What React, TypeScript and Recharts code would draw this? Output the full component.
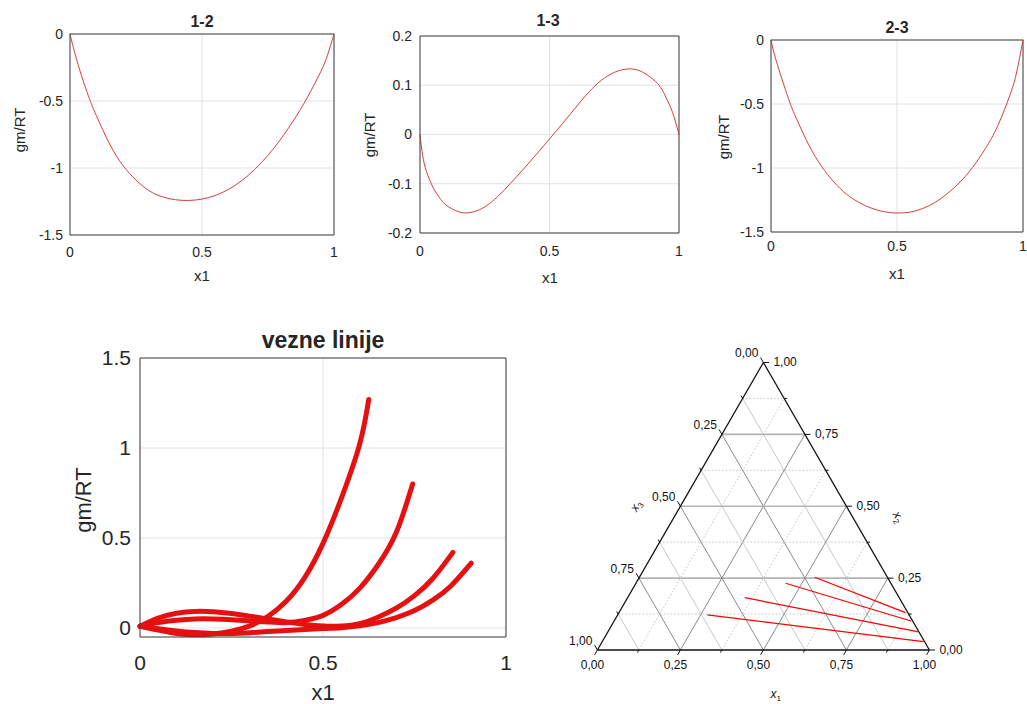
import React from 'react';
import { LineChart, Line, XAxis, YAxis, CartesianGrid, ReferenceLine, ScatterChart, Scatter } from 'recharts';

const FONT = '"Liberation Sans", Arial, Helvetica, sans-serif';
const AXIS = '#404040';
const TEXT = '#262626';
const GRID = '#e2e2e2';

// ---- 1-2 ----
const x12 = [0, 0.01, 0.025, 0.05, 0.075, 0.1, 0.15, 0.2, 0.25, 0.3, 0.35, 0.4, 0.45, 0.5, 0.55, 0.6, 0.65, 0.7, 0.75, 0.8, 0.85, 0.9, 0.95, 0.975, 1];
const y12 = [0, -0.08, -0.19, -0.35, -0.49, -0.61, -0.82, -0.98, -1.09, -1.17, -1.215, -1.237, -1.242, -1.232, -1.205, -1.16, -1.095, -1.01, -0.905, -0.78, -0.635, -0.47, -0.28, -0.16, 0];

// ---- 1-3 ----
const x13 = [0, 0.01, 0.025, 0.05, 0.075, 0.1, 0.15, 0.2, 0.25, 0.3, 0.35, 0.4, 0.45, 0.5, 0.55, 0.6, 0.65, 0.7, 0.75, 0.8, 0.85, 0.9, 0.93, 0.95, 0.975, 1];
const y13 = [0, -0.042, -0.075, -0.107, -0.128, -0.143, -0.157, -0.158, -0.147, -0.126, -0.099, -0.07, -0.04, -0.009, 0.022, 0.054, 0.085, 0.11, 0.126, 0.133, 0.129, 0.112, 0.095, 0.075, 0.045, 0];

// ---- 2-3 ----
const x23 = [0, 0.01, 0.025, 0.05, 0.075, 0.1, 0.15, 0.2, 0.25, 0.3, 0.35, 0.4, 0.45, 0.5, 0.55, 0.6, 0.65, 0.7, 0.75, 0.8, 0.85, 0.9, 0.95, 0.975, 1];
const y23 = [0, -0.085, -0.19, -0.345, -0.49, -0.61, -0.82, -0.985, -1.11, -1.205, -1.27, -1.315, -1.342, -1.352, -1.345, -1.318, -1.27, -1.2, -1.11, -0.995, -0.85, -0.67, -0.42, -0.25, 0];

// ---- vezne linije ----
const xA = [0, 0.05, 0.1, 0.15, 0.2, 0.25, 0.3, 0.35, 0.4, 0.45, 0.5, 0.55, 0.6, 0.625];
const yA = [0.01, -0.012, -0.03, -0.038, -0.033, -0.018, 0.012, 0.065, 0.15, 0.28, 0.47, 0.72, 1.02, 1.27];
const xB = [0, 0.05, 0.1, 0.15, 0.2, 0.25, 0.3, 0.35, 0.4, 0.45, 0.5, 0.55, 0.6, 0.65, 0.7, 0.745];
const yB = [0.01, 0.03, 0.043, 0.05, 0.05, 0.046, 0.04, 0.034, 0.03, 0.042, 0.07, 0.13, 0.22, 0.35, 0.53, 0.8];
const xC = [0, 0.05, 0.1, 0.15, 0.2, 0.25, 0.3, 0.35, 0.4, 0.45, 0.5, 0.55, 0.6, 0.65, 0.7, 0.75, 0.8, 0.855];
const yC = [0.01, 0.055, 0.082, 0.092, 0.09, 0.08, 0.066, 0.05, 0.034, 0.02, 0.011, 0.011, 0.024, 0.06, 0.11, 0.18, 0.275, 0.42];
const xD = [0, 0.05, 0.1, 0.15, 0.2, 0.25, 0.3, 0.35, 0.4, 0.45, 0.5, 0.55, 0.6, 0.65, 0.7, 0.75, 0.8, 0.85, 0.905];
const yD = [0.01, -0.004, -0.016, -0.025, -0.03, -0.03, -0.026, -0.02, -0.014, -0.008, -0.003, 0.002, 0.012, 0.03, 0.058, 0.097, 0.155, 0.235, 0.36];

// ---- ternary tie lines (x1, x2) ----
const tieStartX1 = [0.528, 0.451, 0.353, 0.27];
const tieStartX2 = [0.253, 0.232, 0.182, 0.122];
const tieEndX1 = [0.863, 0.894, 0.936, 0.968];
const tieEndX2 = [0.13, 0.101, 0.063, 0.029];
const ternLevels = [0.125, 0.25, 0.375, 0.5, 0.625, 0.75, 0.875];
const ternTicks = [0, 0.125, 0.25, 0.375, 0.5, 0.625, 0.75, 0.875, 1];
const ternLabels = [0, 0.25, 0.5, 0.75, 1];

const zip = (xs: number[], ys: number[]) => xs.map((x, i) => ({ x, y: ys[i] }));

const Txt = ({ x, y, size, bold, rotate, children }: any) => (
  <div
    style={{
      position: 'absolute', left: x, top: y,
      transform: `translate(-50%, -50%)${rotate ? ` rotate(${rotate}deg)` : ''}`,
      fontSize: size, fontWeight: bold ? 700 : 400, color: TEXT, whiteSpace: 'nowrap',
      lineHeight: 1, fontFamily: FONT,
    }}
  >
    {children}
  </div>
);

type PlotProps = {
  left: number; top: number; width: number; height: number;
  margin: { top: number; right: number; bottom: number; left: number };
  yAxisWidth: number; xAxisHeight: number;
  series: { x: number; y: number }[][];
  yDomain: [number, number]; yTicks: number[];
  fontSize: number; gapX: number; gapY: number;
  color: string; lineWidth: number;
};

function MatlabPlot(p: PlotProps) {
  const tick = { fontSize: p.fontSize, fill: TEXT, fontFamily: FONT };
  return (
    <div style={{ position: 'absolute', left: p.left, top: p.top }}>
      <LineChart width={p.width} height={p.height} margin={p.margin}>
        <CartesianGrid stroke={GRID} />
        <XAxis type="number" dataKey="x" domain={[0, 1]} ticks={[0, 0.5, 1]} interval={0}
          tickSize={0} tickMargin={p.gapX} tick={tick} stroke={AXIS} height={p.xAxisHeight} />
        <YAxis type="number" domain={p.yDomain} ticks={p.yTicks} interval={0}
          tickSize={0} tickMargin={p.gapY} tick={tick} stroke={AXIS} width={p.yAxisWidth} />
        <ReferenceLine x={1} stroke={AXIS} />
        <ReferenceLine y={p.yDomain[1]} stroke={AXIS} />
        {p.series.map((s, i) => (
          <Line key={i} data={s} dataKey="y" type="natural" stroke={p.color} strokeWidth={p.lineWidth}
            strokeLinecap="round" strokeLinejoin="round" dot={false} activeDot={false} isAnimationActive={false} />
        ))}
      </LineChart>
    </div>
  );
}

// ternary helpers
const SQ = Math.sqrt(3) / 2;
const tern = (x1: number, x2: number) => ({ x: x1 + x2 / 2, y: x2 * SQ });
const fmt = (v: number) => v.toFixed(2).replace('.', ',');
const isMajor = (v: number) => Math.abs(v * 4 - Math.round(v * 4)) < 1e-9;

type Seg = { pts: { x: number; y: number }[]; stroke: string; width: number; dash?: string };

function buildSegments(): Seg[] {
  const segs: Seg[] = [];
  ternLevels.forEach((v) => {
    const major = isMajor(v);
    // constant x2 (horizontal)
    segs.push({ pts: [tern(0, v), tern(1 - v, v)], stroke: major ? '#b4b4b4' : '#c4c4c4', width: major ? 1.6 : 1, dash: major ? undefined : '1.5 2' });
    // constant x1
    segs.push({ pts: [tern(v, 0), tern(v, 1 - v)], stroke: major ? '#8a8a8a' : '#c4c4c4', width: 1, dash: major ? undefined : '1.5 2' });
    // constant x3
    segs.push({ pts: [tern(1 - v, 0), tern(0, 1 - v)], stroke: major ? '#8a8a8a' : '#c8c8c8', width: 1 });
  });
  // edges
  segs.push({ pts: [tern(0, 0), tern(1, 0)], stroke: '#111', width: 1.3 });
  segs.push({ pts: [tern(1, 0), tern(0, 1)], stroke: '#111', width: 1.3 });
  segs.push({ pts: [tern(0, 1), tern(0, 0)], stroke: '#111', width: 1.3 });
  // ticks
  ternTicks.forEach((t) => {
    const d = isMajor(t) ? 0.017 : 0.009;
    segs.push({ pts: [tern(t, 0), tern(t, -d)], stroke: '#111', width: 1 });
    segs.push({ pts: [tern(1 - t, t), tern(1 - t + d, t)], stroke: '#111', width: 1 });
    segs.push({ pts: [tern(0, 1 - t), tern(-d, 1 - t + d)], stroke: '#111', width: 1 });
  });
  // tie lines
  tieStartX1.forEach((_, i) => {
    segs.push({ pts: [tern(tieStartX1[i], tieStartX2[i]), tern(tieEndX1[i], tieEndX2[i])], stroke: '#ff0000', width: 1.2 });
  });
  return segs;
}

type Lbl = { x: number; y: number; text: string; dx: number; dy: number; anchor: string; rot?: number; sub?: string };

function buildLabels(): Lbl[] {
  const out: Lbl[] = [];
  ternLabels.forEach((t) => {
    const b = tern(t, 0);
    out.push({ ...b, text: fmt(t), dx: -5, dy: 19, anchor: 'middle' });
    const r = tern(1 - t, t);
    out.push({ ...r, text: fmt(t), dx: 10, dy: 4, anchor: 'start' });
    const l = tern(0, 1 - t);
    out.push({ ...l, text: fmt(t), dx: -5, dy: -5, anchor: 'end' });
  });
  out.push({ ...tern(0.5, 0), text: 'x', sub: '1', dx: 7, dy: 48, anchor: 'start' });
  out.push({ ...tern(0, 0.5), text: 'x', sub: '3', dx: -44, dy: 6, anchor: 'start', rot: -60 });
  out.push({ ...tern(0.5, 0.5), text: 'x', sub: '2', dx: 46, dy: 8, anchor: 'start', rot: 60 });
  return out;
}

const segments = buildSegments();
const labels = buildLabels();

const renderLabel = (props: any) => {
  const { cx, cy, payload } = props;
  const x = cx + payload.dx;
  const y = cy + payload.dy;
  if (payload.sub) {
    return (
      <text x={x} y={y} fontSize={12} fontFamily={FONT} fill="#111" textAnchor="start"
        transform={payload.rot ? `rotate(${payload.rot}, ${x}, ${y})` : undefined}>
        <tspan fontStyle="italic">{payload.text}</tspan>
        <tspan fontSize={8} dy={3}>{payload.sub}</tspan>
      </text>
    );
  }
  return (
    <text x={x} y={y} fontSize={12} fontFamily={FONT} fill="#111" textAnchor={payload.anchor}>
      {payload.text}
    </text>
  );
};

function TernaryPlot() {
  return (
    <div style={{ position: 'absolute', left: 530.6, top: 318 }}>
      <ScatterChart width={464.8} height={398.4} margin={{ top: 0, right: 0, bottom: 0, left: 0 }}>
        <XAxis type="number" dataKey="x" domain={[-0.2, 1.2]} hide />
        <YAxis type="number" dataKey="y" domain={[-0.2, 1.0]} hide />
        {segments.map((s, i) => (
          <Scatter key={i} data={s.pts} fill="none"
            line={{ stroke: s.stroke, strokeWidth: s.width, strokeDasharray: s.dash }}
            shape={() => <g />} isAnimationActive={false} />
        ))}
        <Scatter data={labels} shape={renderLabel} isAnimationActive={false} />
      </ScatterChart>
    </div>
  );
}

export default function App() {
  return (
    <div style={{ position: 'absolute', left: 0, top: 0, width: 1027, height: 704, background: '#fff', overflow: 'hidden', fontFamily: FONT }}>
      <MatlabPlot left={0} top={0} width={350} height={290}
        margin={{ top: 34, right: 16, bottom: 15, left: 20 }} yAxisWidth={50} xAxisHeight={40}
        series={[zip(x12, y12)]} yDomain={[-1.5, 0]} yTicks={[-1.5, -1, -0.5, 0]}
        fontSize={14} gapX={12} gapY={7} color="#d2403a" lineWidth={1} />
      <Txt x={202} y={22} size={16} bold>1-2</Txt>
      <Txt x={19} y={130} size={15} rotate={-90}>gm/RT</Txt>
      <Txt x={202} y={275} size={15}>x1</Txt>

      <MatlabPlot left={350} top={0} width={350} height={290}
        margin={{ top: 36, right: 21, bottom: 17, left: 20 }} yAxisWidth={50} xAxisHeight={40}
        series={[zip(x13, y13)]} yDomain={[-0.2, 0.2]} yTicks={[-0.2, -0.1, 0, 0.1, 0.2]}
        fontSize={14} gapX={13} gapY={8} color="#d2403a" lineWidth={1} />
      <Txt x={548} y={21} size={16} bold>1-3</Txt>
      <Txt x={369} y={135} size={15} rotate={-90}>gm/RT</Txt>
      <Txt x={550} y={277} size={15}>x1</Txt>

      <MatlabPlot left={690} top={0} width={337} height={290}
        margin={{ top: 40, right: 4, bottom: 18, left: 31 }} yAxisWidth={50} xAxisHeight={40}
        series={[zip(x23, y23)]} yDomain={[-1.5, 0]} yTicks={[-1.5, -1, -0.5, 0]}
        fontSize={14} gapX={9} gapY={7} color="#d2403a" lineWidth={1} />
      <Txt x={897} y={28} size={16} bold>2-3</Txt>
      <Txt x={723} y={137} size={15} rotate={-90}>gm/RT</Txt>
      <Txt x={897} y={273} size={15}>x1</Txt>

      <MatlabPlot left={40} top={320} width={490} height={384}
        margin={{ top: 38, right: 24, bottom: 17, left: 30 }} yAxisWidth={70} xAxisHeight={50}
        series={[zip(xA, yA), zip(xB, yB), zip(xC, yC), zip(xD, yD)]} yDomain={[-0.05, 1.5]} yTicks={[0, 0.5, 1, 1.5]}
        fontSize={21} gapX={18} gapY={9} color="#e61010" lineWidth={5} />
      <Txt x={323} y={340} size={23} bold>vezne linije</Txt>
      <Txt x={84} y={500} size={22} rotate={-90}>gm/RT</Txt>
      <Txt x={323} y={693} size={22}>x1</Txt>

      <TernaryPlot />
    </div>
  );
}
